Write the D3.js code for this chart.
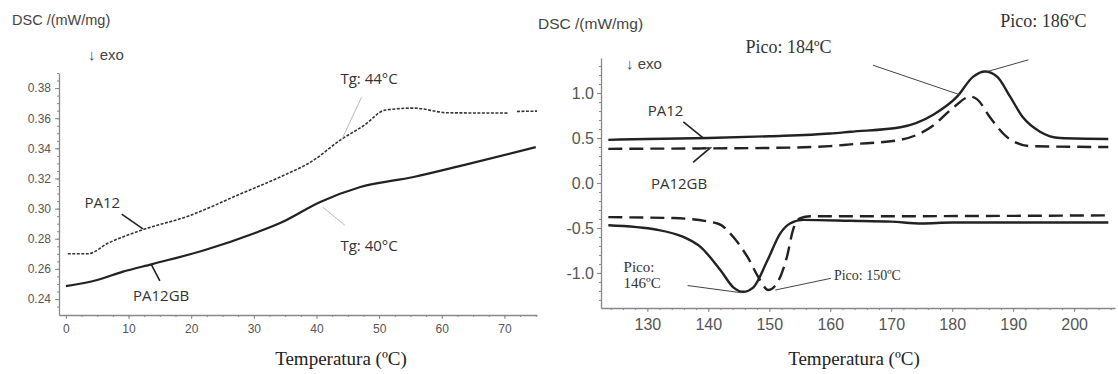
<!DOCTYPE html>
<html>
<head>
<meta charset="utf-8">
<script src="https://cdn.jsdelivr.net/npm/d3@7"></script>
<style>
  body { margin: 0; background: #fff; }
  svg { display: block; }
  .sans { font-family: "Liberation Sans", Arial, sans-serif; }
  .lbl { font-family: "Open Sans", "Liberation Sans", sans-serif; }
  .serif { font-family: "Liberation Serif", "Times New Roman", serif; }
</style>
</head>
<body>
<svg width="1118" height="374"></svg>
<script>
// left panel: glass transition (Tg) region
var tgTemp = [0.3, 3.5, 6.7, 12.3, 19.5, 28, 34.2, 39.5, 43.8, 47.5, 51, 55.5, 61, 70.6];
var tgPA12 = [0.270, 0.270, 0.277, 0.286, 0.295, 0.310, 0.321, 0.332, 0.3455, 0.355, 0.3654, 0.3667, 0.3636, 0.3634];
var tgTempTail = [72, 75.2];
var tgPA12Tail = [0.3645, 0.3647];
var tgTempGB = [0, 5, 9, 13.8, 22.2, 30.2, 34.2, 40.6, 47, 55.5, 63.5, 75];
var tgPA12GB = [0.2486, 0.2526, 0.258, 0.2632, 0.2725, 0.2838, 0.2904, 0.3044, 0.3143, 0.321, 0.3289, 0.3408];
var leftYTicks = [0.24, 0.26, 0.28, 0.30, 0.32, 0.34, 0.36, 0.38];
var leftXTicks = [0, 10, 20, 30, 40, 50, 60, 70];

// right panel: melting (top) and crystallisation (bottom)
var heatTemp = [123.6, 130, 140, 150, 160, 163.3, 171.5, 176.9, 180.8, 183.4, 185.4, 187.4, 189.5, 191.6, 194.4, 197.7, 205.6];
var heatPA12 = [0.48, 0.49, 0.50, 0.52, 0.55, 0.57, 0.62, 0.76, 0.96, 1.18, 1.24, 1.18, 0.96, 0.73, 0.57, 0.50, 0.49];
var heatTempGB = [123.6, 140, 150, 160, 163.3, 171.5, 176.9, 180.2, 183, 184.1, 186.2, 189, 192.8, 205.6];
var heatPA12GB = [0.38, 0.385, 0.39, 0.41, 0.43, 0.48, 0.64, 0.84, 0.96, 0.93, 0.73, 0.51, 0.41, 0.40];
var coolTemp = [123.6, 131.6, 135.9, 138.7, 142, 144.1, 145.7, 147.4, 149.7, 151.8, 153.4, 155.6, 163.3, 170, 175, 180, 205.6];
var coolPA12 = [-0.47, -0.52, -0.60, -0.71, -0.97, -1.16, -1.21, -1.16, -0.86, -0.56, -0.45, -0.41, -0.42, -0.43, -0.45, -0.44, -0.44];
var coolTempGB = [123.6, 134.3, 141.5, 144.1, 146.4, 148.5, 149.8, 151.3, 152.9, 153.9, 155.1, 156.7, 163.3, 205.6];
var coolPA12GB = [-0.38, -0.39, -0.45, -0.60, -0.82, -1.08, -1.19, -1.11, -0.82, -0.52, -0.39, -0.37, -0.37, -0.36];
var rightYTicks = [-1.0, -0.5, 0.0, 0.5, 1.0];
var rightXTicks = [130, 140, 150, 160, 170, 180, 190, 200];

var svg = d3.select("svg");
var ink = "#222", axisCol = "#888";

function zip(xs, ys) { return xs.map(function(x, i) { return [x, ys[i]]; }); }

// ---------- left panel ----------
var xL = d3.scaleLinear().domain([-1.1, 75.2]).range([59, 537]);
var yL = d3.scaleLinear().domain([0.2294, 0.39]).range([315, 73]);

function styleAxis(g, size) {
  g.select(".domain").attr("stroke", axisCol).attr("stroke-width", 1.3);
  g.selectAll(".tick line").attr("stroke", axisCol);
  g.selectAll(".tick text").attr("fill", "#555").attr("font-size", size)
    .attr("font-family", "Liberation Sans, Arial, sans-serif");
}

// minor ticks first so the labelled axis sits on top
svg.append("g").attr("transform", "translate(59,0)")
  .call(d3.axisLeft(yL).tickValues(d3.range(0.235, 0.39, 0.005)).tickSize(2).tickFormat(""))
  .call(function(g) { g.select(".domain").remove(); g.selectAll("line").attr("stroke", axisCol); });
svg.append("g").attr("transform", "translate(0,315)")
  .call(d3.axisBottom(xL).tickValues(d3.range(0, 76, 2.5)).tickSize(2).tickFormat(""))
  .call(function(g) { g.select(".domain").remove(); g.selectAll("line").attr("stroke", axisCol); });

svg.append("g").attr("transform", "translate(59,0)")
  .call(d3.axisLeft(yL).tickValues(leftYTicks).tickSize(4).tickPadding(4).tickFormat(d3.format(".2f")).tickSizeOuter(0))
  .call(styleAxis, 12);
svg.append("g").attr("transform", "translate(0,315)")
  .call(d3.axisBottom(xL).tickValues(leftXTicks).tickSize(4).tickPadding(5).tickSizeOuter(0))
  .call(styleAxis, 12);

var lineL = d3.line().x(function(d) { return xL(d[0]); }).y(function(d) { return yL(d[1]); })
  .curve(d3.curveMonotoneX);

svg.append("path").datum(zip(tgTemp, tgPA12)).attr("d", lineL)
  .attr("fill", "none").attr("stroke", "#333").attr("stroke-width", 1.6).attr("stroke-dasharray", "3,1.5");
svg.append("path").datum(zip(tgTempTail, tgPA12Tail)).attr("d", lineL)
  .attr("fill", "none").attr("stroke", "#333").attr("stroke-width", 1.6).attr("stroke-dasharray", "3,1.5");
svg.append("path").datum(zip(tgTempGB, tgPA12GB)).attr("d", lineL)
  .attr("fill", "none").attr("stroke", ink).attr("stroke-width", 2.2);

// leader lines + labels (data coordinates)
function leader(x, y, p, q, col, w) {
  svg.append("line").attr("x1", x(p[0])).attr("y1", y(p[1])).attr("x2", x(q[0])).attr("y2", y(q[1]))
    .attr("stroke", col).attr("stroke-width", w);
}
function label(x, y, pos, txt, cls, size, anchor) {
  return svg.append("text").attr("class", cls).attr("x", x(pos[0])).attr("y", y(pos[1]))
    .attr("font-size", size).attr("fill", "#333").attr("text-anchor", anchor || "middle")
    .attr("dominant-baseline", "central").text(txt);
}

leader(xL, yL, [8.9, 0.2964], [12.3, 0.2866], ink, 1.6);
label(xL, yL, [5.8, 0.3044], "PA12", "lbl", 15);
leader(xL, yL, [13.6, 0.2632], [15.0, 0.2520], ink, 1.6);
label(xL, yL, [15.2, 0.2426], "PA12GB", "lbl", 15);
leader(xL, yL, [47.2, 0.374], [44.0, 0.3455], "#bbb", 1);
label(xL, yL, [48.4, 0.3866], "Tg: 44°C", "lbl", 15);
leader(xL, yL, [44.5, 0.2891], [41.0, 0.301], "#bbb", 1);
label(xL, yL, [48.4, 0.2758], "Tg: 40°C", "lbl", 15);

svg.append("text").attr("class", "sans").attr("x", 12).attr("y", 20).attr("dominant-baseline", "central")
  .attr("font-size", 14.5).attr("fill", "#444").text("DSC /(mW/mg)");
svg.append("text").attr("class", "sans").attr("x", 88).attr("y", 54).attr("dominant-baseline", "central")
  .attr("font-size", 15).attr("fill", "#444").text("↓ exo");
svg.append("text").attr("class", "serif").attr("x", 341).attr("y", 358).attr("text-anchor", "middle")
  .attr("dominant-baseline", "central").attr("font-size", 19).attr("fill", "#222").text("Temperatura (ºC)");

// ---------- right panel ----------
var xR = d3.scaleLinear().domain([122.4, 206.7]).range([601, 1115]);
var yR = d3.scaleLinear().domain([-1.39, 1.39]).range([308, 58]);

svg.append("g").attr("transform", "translate(601,0)")
  .call(d3.axisLeft(yR).tickValues(d3.range(-1.3, 1.35, 0.1)).tickSize(2).tickFormat(""))
  .call(function(g) { g.select(".domain").remove(); g.selectAll("line").attr("stroke", axisCol); });
svg.append("g").attr("transform", "translate(0,308)")
  .call(d3.axisBottom(xR).tickValues(d3.range(124, 207, 2)).tickSize(2).tickFormat(""))
  .call(function(g) { g.select(".domain").remove(); g.selectAll("line").attr("stroke", axisCol); });

svg.append("g").attr("transform", "translate(601,0)")
  .call(d3.axisLeft(yR).tickValues(rightYTicks).tickSize(4).tickPadding(3).tickSizeOuter(0)
    .tickFormat(function(d) { return d3.format(".1f")(d).replace("−", "-"); }))
  .call(styleAxis, 16);
svg.append("g").attr("transform", "translate(0,308)")
  .call(d3.axisBottom(xR).tickValues(rightXTicks).tickSize(4).tickPadding(7).tickSizeOuter(0))
  .call(styleAxis, 16);

var lineR = d3.line().x(function(d) { return xR(d[0]); }).y(function(d) { return yR(d[1]); })
  .curve(d3.curveMonotoneX);

[[heatTemp, heatPA12, null], [coolTemp, coolPA12, null],
 [heatTempGB, heatPA12GB, "14,7"], [coolTempGB, coolPA12GB, "14,7"]].forEach(function(s) {
  svg.append("path").datum(zip(s[0], s[1])).attr("d", lineR)
    .attr("fill", "none").attr("stroke", ink).attr("stroke-width", 2.4)
    .attr("stroke-dasharray", s[2]);
});

leader(xR, yR, [135.9, 0.68], [139.2, 0.50], ink, 1.6);
label(xR, yR, [133.0, 0.81], "PA12", "lbl", 15);
svg.append("polyline")
  .attr("points", [[139.0, 0.39], [140.3, 0.39], [137.5, 0.23]].map(function(d) { return xR(d[0]) + "," + yR(d[1]); }).join(" "))
  .attr("fill", "none").attr("stroke", ink).attr("stroke-width", 1.6);
label(xR, yR, [135.2, 0.0], "PA12GB", "lbl", 15);

label(xR, yR, [126.1, -0.93], "Pico:", "serif", 15, "start");
label(xR, yR, [126.1, -1.11], "146ºC", "serif", 15, "start");
leader(xR, yR, [136.6, -1.14], [145.4, -1.22], "#444", 1);
label(xR, yR, [160.6, -1.03], "Pico: 150ºC", "serif", 14, "start");
leader(xR, yR, [160.1, -1.06], [151.0, -1.19], "#444", 1);
label(xR, yR, [146.1, 1.51], "Pico: 184ºC", "serif", 18, "start");
leader(xR, yR, [167.0, 1.31], [181.3, 0.98], "#444", 1);
label(xR, yR, [187.9, 1.80], "Pico: 186ºC", "serif", 18, "start");
leader(xR, yR, [192.5, 1.37], [185.8, 1.24], "#444", 1);

svg.append("text").attr("class", "sans").attr("x", 538).attr("y", 23).attr("dominant-baseline", "central")
  .attr("font-size", 15.5).attr("fill", "#444").text("DSC /(mW/mg)");
svg.append("text").attr("class", "sans").attr("x", 626).attr("y", 63).attr("dominant-baseline", "central")
  .attr("font-size", 15).attr("fill", "#444").text("↓ exo");
svg.append("text").attr("class", "serif").attr("x", 854).attr("y", 358).attr("text-anchor", "middle")
  .attr("dominant-baseline", "central").attr("font-size", 19).attr("fill", "#222").text("Temperatura (ºC)");
</script>
</body>
</html>
